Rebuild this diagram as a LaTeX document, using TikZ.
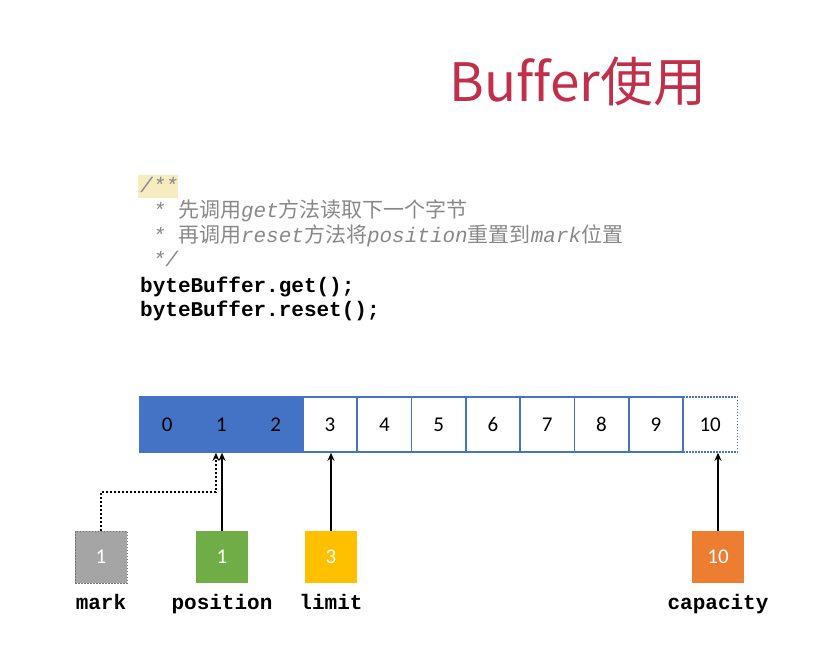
\documentclass[tikz,border=0pt]{standalone}
\usepackage{fontspec}
\setmainfont{Carlito}
\newfontfamily\cjk{Noto Sans CJK SC}
\newfontfamily\titlefont{Noto Sans CJK SC}[Ligatures=CommonOff]
\newfontfamily\code{Liberation Mono}
\usetikzlibrary{arrows.meta,calc}
\definecolor{cellblue}{HTML}{4472C4}
\definecolor{titlered}{HTML}{C0304A}
\definecolor{cmtgray}{HTML}{888888}
\definecolor{hl}{HTML}{F7EBC0}
\definecolor{markgray}{HTML}{A5A5A5}
\definecolor{posgreen}{HTML}{70AD47}
\definecolor{limyellow}{HTML}{FFC000}
\definecolor{caporange}{HTML}{ED7D31}
\tikzset{
  cellbox/.style={draw=cellblue, line width=1.6pt, minimum width=54.3pt, minimum height=55pt, inner sep=0pt, font=\fontsize{21}{21}\selectfont},
  valbox/.style={minimum width=52pt, minimum height=52pt, inner sep=0pt, text=white, font=\fontsize{21}{21}\selectfont},
  lbl/.style={font=\code\bfseries\fontsize{21}{21}\selectfont, anchor=base},
  codeline/.style={anchor=base west, inner sep=0pt, font=\code\fontsize{21}{24}\selectfont},
  arr/.style={line width=2.2pt, -{Stealth[length=8pt,width=7pt]}},
}
\newcommand{\cm}[1]{{\itshape #1}}
\newcommand{\zh}[1]{{\cjk #1}}
\begin{document}
\begin{tikzpicture}[x=1pt,y=-1pt]
\useasboundingbox (0,0) rectangle (829,653);
% title
\node[text=titlered, font=\titlefont\fontsize{53}{53}\selectfont, anchor=base] (title) at (578,101) {Buffer使用};
% code
\fill[hl] (138,175) rectangle (178,198);
\node[codeline, text=cmtgray] (l1) at (140,192) {\cm{/**}};
\node[codeline, text=cmtgray] (l2) at (140,217) {\cm{\ *\ }\zh{先调用}\cm{get}\zh{方法读取下一个字节}};
\node[codeline, text=cmtgray] (l3) at (140,242) {\cm{\ *\ }\zh{再调用}\cm{reset}\zh{方法将}\cm{position}\zh{重置到}\cm{mark}\zh{位置}};
\node[codeline, text=cmtgray] (l4) at (140,266) {\cm{\ */}};
\node[codeline, font=\code\bfseries\fontsize{21}{24}\selectfont] (l5) at (140,292) {byteBuffer.get();};
\node[codeline, font=\code\bfseries\fontsize{21}{24}\selectfont] (l6) at (140,316) {byteBuffer.reset();};
% cells
\foreach \i in {0,1,2} {
  \node[cellbox, fill=cellblue] (c\i) at ({140+54.3*(\i+0.5)},424.5) {\i};
}
\foreach \i in {3,...,9} {
  \node[cellbox] (c\i) at ({140+54.3*(\i+0.5)},424.5) {\i};
}
\node[cellbox, dash pattern=on 1.5pt off 1.5pt] (c10) at ({140+54.3*10.5},424.5) {10};
% value boxes
\node[valbox, fill=markgray, draw=markgray!70!black, dash pattern=on 1.5pt off 1.5pt, line width=0.8pt] (mark) at (101,557) {1};
\node[valbox, fill=posgreen] (pos) at (222,557) {1};
\node[valbox, fill=limyellow] (lim) at (331,557) {3};
\node[valbox, fill=caporange] (cap) at (718,557) {10};
\node[lbl] (markl) at (101,609) {mark};
\node[lbl] (posl) at (222,609) {position};
\node[lbl] (liml) at (331,609) {limit};
\node[lbl] (capl) at (718,609) {capacity};
% arrows
\coordinate (mk) at ($(c1.south)+(-5.5,0)$);
\draw[arr, line width=2pt, dash pattern=on 2pt off 2pt] (mark.north) -- ++(0,-39) -| (mk);
\draw[arr] (pos.north) -- (pos.north |- c1.south);
\draw[arr] (lim.north) -- (lim.north |- c3.south);
\draw[arr] (cap.north) -- (cap.north |- c10.south);
\end{tikzpicture}
\end{document}
